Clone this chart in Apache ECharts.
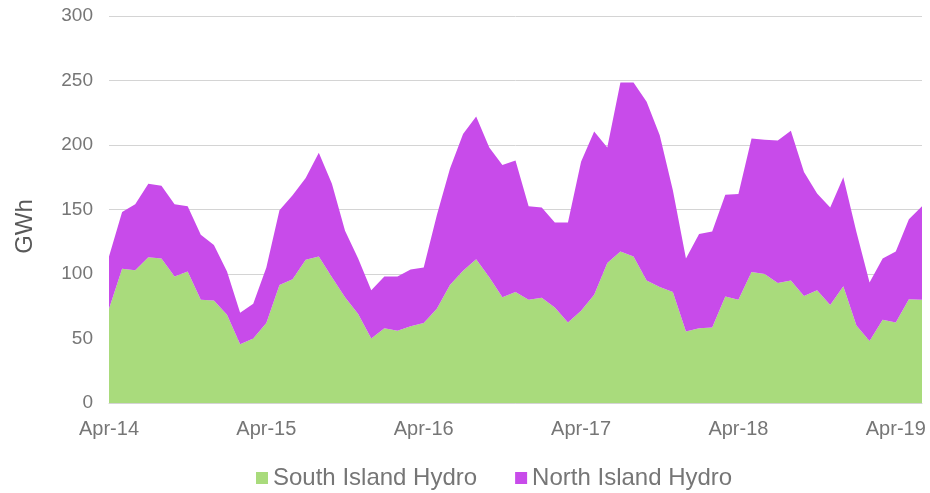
<!DOCTYPE html>
<html>
<head>
<meta charset="utf-8">
<script src="https://cdn.jsdelivr.net/npm/echarts@6/dist/echarts.min.js"></script>
<style>
  html, body { margin: 0; padding: 0; background: #fff; }
  #chart { width: 930px; height: 493px; }
</style>
</head>
<body>
<div id="chart"></div>
<script>
// monthly, Apr-14 .. Jun-19
var months = [
  "Apr-14", "May-14", "Jun-14", "Jul-14", "Aug-14", "Sep-14", "Oct-14", "Nov-14", "Dec-14",
  "Jan-15", "Feb-15", "Mar-15", "Apr-15", "May-15", "Jun-15", "Jul-15", "Aug-15", "Sep-15",
  "Oct-15", "Nov-15", "Dec-15", "Jan-16", "Feb-16", "Mar-16", "Apr-16", "May-16", "Jun-16",
  "Jul-16", "Aug-16", "Sep-16", "Oct-16", "Nov-16", "Dec-16", "Jan-17", "Feb-17", "Mar-17",
  "Apr-17", "May-17", "Jun-17", "Jul-17", "Aug-17", "Sep-17", "Oct-17", "Nov-17", "Dec-17",
  "Jan-18", "Feb-18", "Mar-18", "Apr-18", "May-18", "Jun-18", "Jul-18", "Aug-18", "Sep-18",
  "Oct-18", "Nov-18", "Dec-18", "Jan-19", "Feb-19", "Mar-19", "Apr-19", "May-19", "Jun-19"
];

var southHydro = [
  73, 104, 103, 113, 112, 98, 102, 80, 79.5, 68.5,
  45.5, 50, 62, 91.5, 96, 111, 113.5, 97.5, 82, 69,
  50, 58, 56, 59.5, 62, 73, 91.5, 102.5, 111.5, 97.5,
  82, 86, 80, 81.5, 74, 62.5, 71.5, 84, 108.5, 117.5,
  113.5, 95, 90, 86, 55.5, 58, 58.5, 82.5, 80, 101.5,
  100, 93, 95, 83, 87.5, 76, 90.5, 60, 48, 64.5,
  62.5, 80.5, 80
];

var northHydro = [
  40.5, 44, 51, 57, 56.5, 56, 50.5, 50.5, 43, 33.5,
  24.5, 27, 43, 58, 65, 63.5, 80.5, 72.5, 51.5, 43,
  37.5, 40, 42, 44, 43, 72.5, 90, 106, 110.5, 100.5,
  102.5, 102, 72.5, 70, 66, 77.5, 115.5, 126.5, 89.5, 131,
  135, 138.5, 117.5, 79, 56.5, 73, 74.5, 79, 82, 103.5,
  104, 110.5, 116, 96, 75, 75.5, 84.5, 72.5, 45.5, 47.5,
  55, 62, 72.5
];

var myChart = echarts.init(document.getElementById("chart"));

var font = "Liberation Sans, Arial, sans-serif";

var option = {
  animation: false,
  textStyle: { fontFamily: font },
  grid: {
    left: 109,
    right: 8,
    top: 16,
    bottom: 90
  },
  legend: {
    top: 461,
    left: 251,
    icon: "rect",
    itemWidth: 12,
    itemHeight: 12,
    itemGap: 38,
    textStyle: { fontSize: 24, color: "#767676", fontFamily: font },
    data: ["South Island Hydro", "North Island Hydro"]
  },
  xAxis: {
    type: "category",
    boundaryGap: false,
    data: months,
    axisTick: { show: false },
    axisLine: { lineStyle: { color: "#d4d4d4", width: 1 } },
    axisLabel: {
      interval: 11,
      margin: 16,
      fontSize: 20,
      color: "#767676",
      fontFamily: font
    }
  },
  yAxis: {
    type: "value",
    min: 0,
    max: 300,
    interval: 50,
    name: "GWh",
    nameLocation: "middle",
    nameGap: 72,
    nameTextStyle: { fontSize: 24, color: "#595959", fontFamily: font, padding: [0, 34, 0, 0] },
    axisLine: { show: false },
    axisTick: { show: false },
    axisLabel: { margin: 16, fontSize: 19, color: "#767676", fontFamily: font },
    splitLine: { lineStyle: { color: "#d4d4d4", width: 1 } }
  },
  series: [
    {
      name: "South Island Hydro",
      type: "line",
      stack: "hydro",
      symbol: "none",
      lineStyle: { width: 0 },
      itemStyle: { color: "#a9db7c" },
      areaStyle: { color: "#a9db7c", opacity: 1 },
      data: southHydro
    },
    {
      name: "North Island Hydro",
      type: "line",
      stack: "hydro",
      symbol: "none",
      lineStyle: { width: 0 },
      itemStyle: { color: "#c84bea" },
      areaStyle: { color: "#c84bea", opacity: 1 },
      data: northHydro
    }
  ]
};

myChart.setOption(option);
</script>
</body>
</html>
